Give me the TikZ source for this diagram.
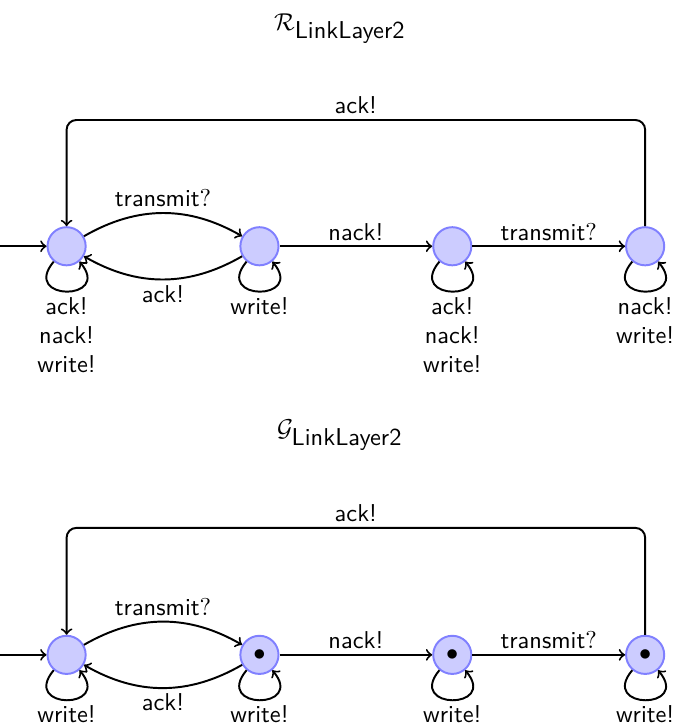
\documentclass[tikz,border=0pt]{standalone}
\usetikzlibrary{positioning}
\renewcommand{\familydefault}{\sfdefault}

\begin{document}
\begin{tikzpicture}[
    on grid, node distance=2.78cm,
    loc/.style={circle, draw=blue!50, fill=blue!20, thick, minimum size=0.55cm, inner sep=0pt},
    every edge/.style={draw, ->, thick},
    every loop/.style={min distance=7.5mm, looseness=1},
    selfloop/.style={out=-130, in=-50, loop},
    lbl/.style={align=center, inner sep=2pt}
  ]
  \useasboundingbox (0,0) rectangle (9.71,10.48);

  % R_LinkLayer2
  \node (rtitle) at (4.9,10.07) {$\mathcal{R}_{\textsf{LinkLayer2}}$};
  \node[loc] (r0) at (0.96,6.93) {};
  \node[loc, right=of r0] (r1) {};
  \node[loc, right=of r1] (r2) {};
  \node[loc, right=of r2] (r3) {};
  \coordinate (rin) at (0,6.93);
  \coordinate (rtop) at (0,8.75);

  \draw[->, thick] (rin) -- (r0);
  \path (r0) edge[bend left] node[above, lbl] {transmit$?$} (r1)
        (r1) edge[bend left] node[below, lbl] {ack!} (r0)
        (r1) edge node[above, lbl] {nack!} (r2)
        (r2) edge node[above, lbl] {transmit$?$} (r3);
  \path (r0) edge[selfloop] node[below, lbl] {ack!\\nack!\\write!} ()
        (r1) edge[selfloop] node[below, lbl] {write!} ()
        (r2) edge[selfloop] node[below, lbl] {ack!\\nack!\\write!} ()
        (r3) edge[selfloop] node[below, lbl] {nack!\\write!} ();
  \draw[->, thick, rounded corners] (r3) -- (r3 |- rtop) -- node[above, lbl] {ack!} (r0 |- rtop) -- (r0);

  % G_LinkLayer2
  \node (gtitle) at (4.9,4.21) {$\mathcal{G}_{\textsf{LinkLayer2}}$};
  \node[loc] (g0) at (0.96,1.04) {};
  \node[loc, right=of g0] (g1) {$\bullet$};
  \node[loc, right=of g1] (g2) {$\bullet$};
  \node[loc, right=of g2] (g3) {$\bullet$};
  \coordinate (gin) at (0,1.04);
  \coordinate (gtop) at (0,2.87);

  \draw[->, thick] (gin) -- (g0);
  \path (g0) edge[bend left] node[above, lbl] {transmit$?$} (g1)
        (g1) edge[bend left] node[below, lbl] {ack!} (g0)
        (g1) edge node[above, lbl] {nack!} (g2)
        (g2) edge node[above, lbl] {transmit$?$} (g3);
  \path (g0) edge[selfloop] node[below, lbl] {write!} ()
        (g1) edge[selfloop] node[below, lbl] {write!} ()
        (g2) edge[selfloop] node[below, lbl] {write!} ()
        (g3) edge[selfloop] node[below, lbl] {write!} ();
  \draw[->, thick, rounded corners] (g3) -- (g3 |- gtop) -- node[above, lbl] {ack!} (g0 |- gtop) -- (g0);
\end{tikzpicture}
\end{document}
